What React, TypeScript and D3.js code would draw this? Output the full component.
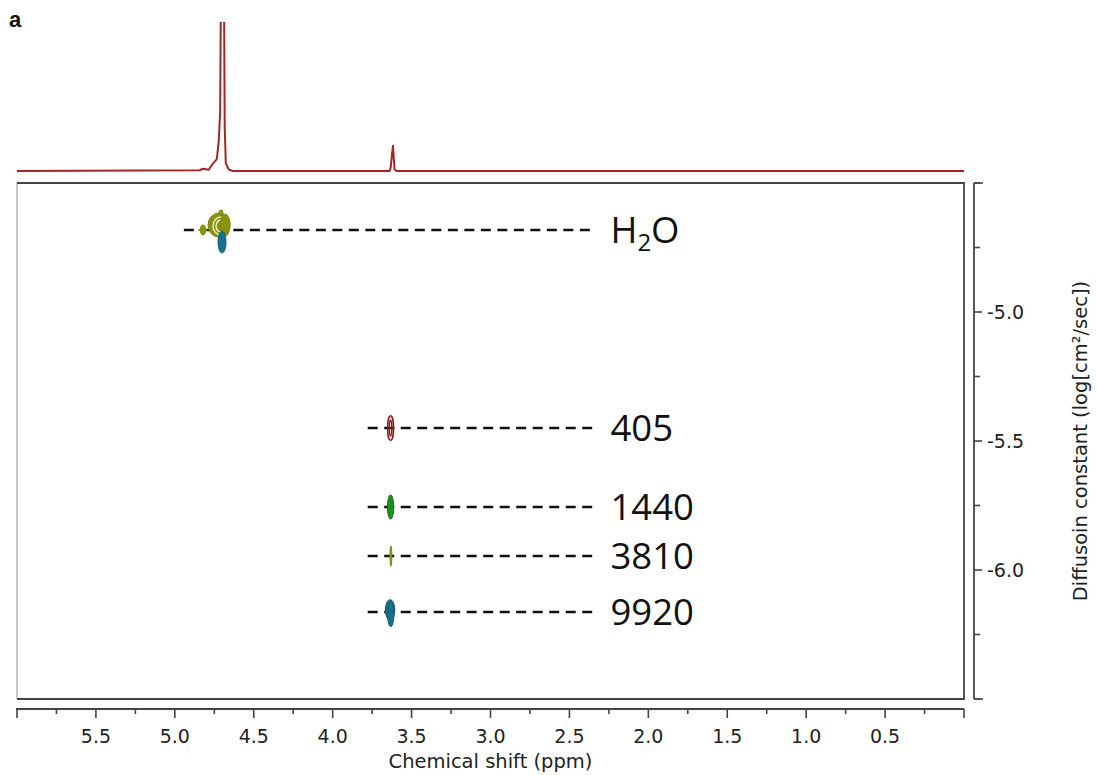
import React from "react";
import * as d3 from "d3";

// ---- data ----
const specPpm = [6.0, 4.842, 4.823, 4.804, 4.785, 4.759, 4.734, 4.722, 4.713, 4.706, 4.699, 4.69, 4.684, 4.677, 4.658, 4.633, 3.639, 3.633, 3.618, 3.608, 3.595, 0.0];
const specInt = [0, 0.005, 0.015, 0.012, 0.008, 0.05, 0.08, 0.2, 0.39, 1.5, 3.0, 1.5, 0.3, 0.05, 0.01, 0, 0, 0.02, 0.17, 0.01, 0, 0];

const sampleLabels = ["H2O", "405", "1440", "3810", "9920"];
const sampleLogD = [-4.682, -5.45, -5.756, -5.946, -6.163];
const lineStartPpm = [4.943, 3.778, 3.778, 3.778, 3.778];
const lineEndPpm = 2.354;
const labelPpm = 2.24;

// contours: centre ppm, centre logD, half-width (ppm), half-height (logD), kind
const contourPpm = [4.8215, 4.72, 4.7075, 4.7075, 4.682, 4.7075, 4.701, 3.633, 3.633, 3.633, 3.631, 3.636, 3.632];
const contourLogD = [-4.682, -4.663, -4.6667, -4.6667, -4.663, -4.616, -4.7287, -5.45, -5.45, -5.756, -5.946, -6.155, -6.17];
const contourRx = [0.0158, 0.0697, 0.0507, 0.0317, 0.0317, 0.0127, 0.0253, 0.019, 0.008, 0.02, 0.006, 0.03, 0.02];
const contourRy = [0.0194, 0.0465, 0.0349, 0.0233, 0.0426, 0.0116, 0.0426, 0.048, 0.03, 0.047, 0.039, 0.04, 0.05];
const contourKind = ["olive-fill", "olive-fill", "white-ring", "white-ring", "olive-fill", "olive-fill", "teal-fill", "red-ring", "red-ring", "green-fill", "olive-fill", "teal-fill", "teal-fill"];

const xTicksMajor = [6.0, 5.5, 5.0, 4.5, 4.0, 3.5, 3.0, 2.5, 2.0, 1.5, 1.0, 0.5, 0.0];
const xTicksMinor = [5.75, 5.25, 4.75, 4.25, 3.75, 3.25, 2.75, 2.25, 1.75, 1.25, 0.75, 0.25];
const xTickLabels = ["5.5", "5.0", "4.5", "4.0", "3.5", "3.0", "2.5", "2.0", "1.5", "1.0", "0.5"];
const yTicksMajor = [-5.0, -5.5, -6.0];
const yTicksMinor = [-4.5, -4.75, -5.25, -5.75, -6.25, -6.5];
const yTickLabels = ["-5.0", "-5.5", "-6.0"];

const kindStyle: Record<string, { fill: string; stroke: string; sw: number }> = {
  "olive-fill": { fill: "#8a9410", stroke: "#7f890c", sw: 1 },
  "white-ring": { fill: "none", stroke: "#f4f6e0", sw: 1.3 },
  "teal-fill": { fill: "#17708c", stroke: "#135f78", sw: 1 },
  "red-ring": { fill: "none", stroke: "#8b1c1c", sw: 1.6 },
  "green-fill": { fill: "#1f8e1f", stroke: "#176e17", sw: 1 },
};

export default function App() {
  const W = 1097, H = 775;
  const left = 17, right = 964, top = 183, bottom = 699;
  const x = d3.scaleLinear().domain([6.0, 0.0]).range([left, right]);
  const y = d3.scaleLinear().domain([-4.5, -6.5]).range([top, bottom]);
  const yi = d3.scaleLinear().domain([0, 1]).range([171, 22]);

  const specLine = d3
    .line<number>()
    .x((_, i) => x(specPpm[i]))
    .y((d) => yi(d));

  const axisY = 709;
  const raxX = 974;
  const font = "'DejaVu Sans', Verdana, sans-serif";

  return (
    <svg width={W} height={H} style={{ position: "absolute", left: 0, top: 0, background: "#fff" }}>
      <defs>
        <clipPath id="specClip">
          <rect x={0} y={22} width={W} height={160} />
        </clipPath>
      </defs>
      <text x={9} y={27} fontFamily="'Liberation Sans', Arial, sans-serif" fontWeight="bold" fontSize={22} fill="#111">a</text>

      {/* 1D spectrum */}
      <path d={specLine(specInt) || ""} fill="none" stroke="#a32626" strokeWidth={2} clipPath="url(#specClip)" strokeLinejoin="round" />

      {/* plot frame */}
      <line x1={left} y1={top} x2={left} y2={bottom} stroke="#c8c8c8" strokeWidth={2} />
      <path d={`M${left},${top}H${right}V${bottom}H${left}`} fill="none" stroke="#444" strokeWidth={1.8} />

      {/* dashed guide lines */}
      {sampleLabels.map((s, i) => (
        <line key={"dl" + s} x1={x(lineStartPpm[i])} x2={x(lineEndPpm)} y1={y(sampleLogD[i])} y2={y(sampleLogD[i])}
          stroke="#111" strokeWidth={2.5} strokeDasharray="10,6.5" />
      ))}

      {/* H2O small cross bar */}
      <line x1={x(4.85)} x2={x(4.795)} y1={y(sampleLogD[0])} y2={y(sampleLogD[0])} stroke="#8a9410" strokeWidth={2} />

      {/* contours */}
      {contourPpm.map((p, i) => {
        const st = kindStyle[contourKind[i]];
        const cx = x(p), cy = y(contourLogD[i]);
        const rx = Math.abs(x(p + contourRx[i]) - cx);
        const ry = Math.abs(y(contourLogD[i] + contourRy[i]) - cy);
        return <ellipse key={"c" + i} cx={cx} cy={cy} rx={rx} ry={ry} fill={st.fill} stroke={st.stroke} strokeWidth={st.sw} />;
      })}

      {/* labels */}
      {sampleLabels.map((s, i) => (
        <text key={"lb" + s} x={x(labelPpm)} y={y(sampleLogD[i])} dy="0.36em" fontFamily="'Open Sans', sans-serif" fontSize={36.5} fill="#111">
          {s === "H2O" ? (
            <>
              H<tspan fontSize={24} dy="8">2</tspan><tspan dy="-8">O</tspan>
            </>
          ) : (
            s
          )}
        </text>
      ))}

      {/* x axis */}
      <line x1={left - 1} x2={right} y1={axisY} y2={axisY} stroke="#444" strokeWidth={1.8} />
      {xTicksMajor.map((t) => (
        <line key={"xm" + t} x1={x(t)} x2={x(t)} y1={axisY} y2={axisY + 9} stroke="#444" strokeWidth={1.6} />
      ))}
      {xTicksMinor.map((t) => (
        <line key={"xn" + t} x1={x(t)} x2={x(t)} y1={axisY} y2={axisY + 5} stroke="#444" strokeWidth={1.6} />
      ))}
      {xTickLabels.map((l) => (
        <text key={"xl" + l} x={x(+l)} y={743} textAnchor="middle" fontFamily={font} fontSize={19} fill="#222">{l}</text>
      ))}
      <text x={(left + right) / 2} y={768} textAnchor="middle" fontFamily={font} fontSize={19.5} fill="#222">Chemical shift (ppm)</text>

      {/* right y axis */}
      <line x1={raxX} x2={raxX} y1={top} y2={bottom} stroke="#444" strokeWidth={1.8} />
      <line x1={raxX} x2={raxX + 9} y1={top} y2={top} stroke="#444" strokeWidth={1.6} />
      <line x1={raxX} x2={raxX + 9} y1={bottom} y2={bottom} stroke="#444" strokeWidth={1.6} />
      {yTicksMajor.map((t) => (
        <line key={"ym" + t} x1={raxX} x2={raxX + 8} y1={y(t)} y2={y(t)} stroke="#444" strokeWidth={1.6} />
      ))}
      {yTicksMinor.map((t) => (
        <line key={"yn" + t} x1={raxX} x2={raxX + 6} y1={y(t)} y2={y(t)} stroke="#444" strokeWidth={1.6} />
      ))}
      {yTickLabels.map((l) => (
        <text key={"yl" + l} x={987} y={y(+l)} dy="0.36em" fontFamily={font} fontSize={19} fill="#222">{l}</text>
      ))}
      <text transform={`translate(1087,${(top + bottom) / 2}) rotate(-90)`} textAnchor="middle" fontFamily={font} fontSize={19.5} fill="#222">
        Diffusoin constant (log[cm²/sec])
      </text>
    </svg>
  );
}
